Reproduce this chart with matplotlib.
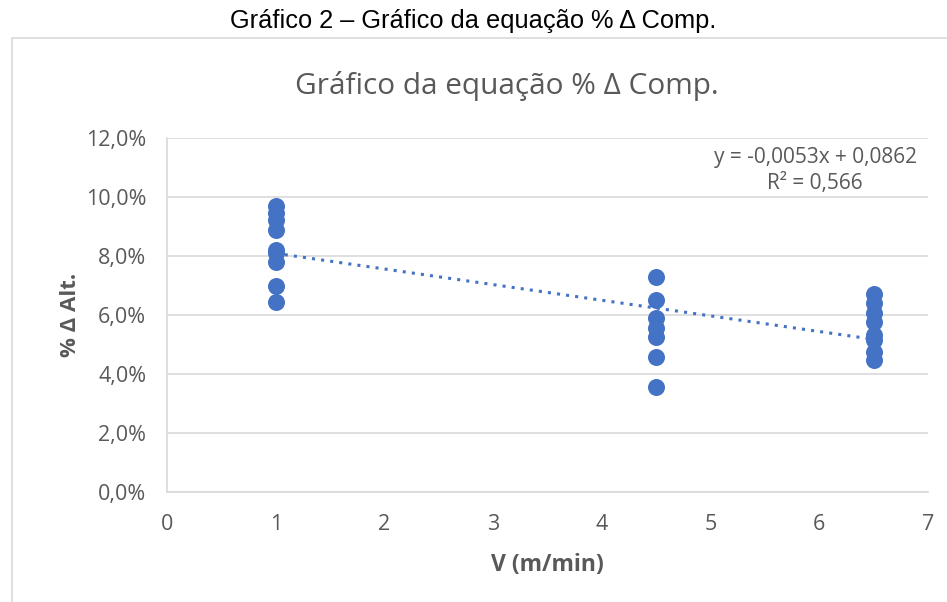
import numpy as np
import matplotlib
matplotlib.use("Agg")
import matplotlib.pyplot as plt
from matplotlib.patches import Rectangle
from matplotlib.ticker import FuncFormatter

# --- dados ---
v_1 = [1.0] * 9
alt_1 = [9.69, 9.46, 9.22, 8.88, 8.20, 8.10, 7.80, 6.98, 6.44]
v_45 = [4.5] * 7
alt_45 = [7.29, 6.51, 5.90, 5.56, 5.25, 4.58, 3.56]
v_65 = [6.5] * 8
alt_65 = [6.71, 6.41, 6.07, 5.76, 5.32, 5.15, 4.75, 4.47]

slope, intercept = -0.0053, 0.0862
trend_x = [1.0, 6.5]

x = np.array(v_1 + v_45 + v_65)
y = np.array(alt_1 + alt_45 + alt_65) / 100

BLUE = "#4472C4"
GRAY = "#595959"
LIGHT = "#d9d9d9"
plt.rcParams["font.family"] = ["Open Sans", "DejaVu Sans"]

fig = plt.figure(figsize=(9.47, 6.02), dpi=100)
ax = fig.add_axes([167 / 947, 1 - 492 / 602, (928 - 167) / 947, (492 - 138) / 602])

# borda externa do gráfico
fig.patches.append(Rectangle((12 / 947, -0.1), 1.2, 1.1 - 38 / 602, transform=fig.transFigure,
                             fill=False, edgecolor=LIGHT, lw=1.2))

ax.scatter(x, y, s=150, color=BLUE, zorder=3, linewidths=0)
tx = np.array(trend_x)
ax.plot(tx, slope * tx + intercept, ls=(0, (1, 2)), color=BLUE, lw=2.2, zorder=2)

ax.set_xlim(0, 7)
ax.set_ylim(0, 0.12)
ax.set_xticks(range(8))
ax.set_yticks(np.arange(0, 0.121, 0.02))
ax.yaxis.set_major_formatter(FuncFormatter(lambda v, p: f"{v * 100:.1f}%".replace(".", ",")))
ax.grid(axis="y", color=LIGHT, lw=1.2)
ax.set_axisbelow(True)
for s in ["top", "right"]:
    ax.spines[s].set_visible(False)
for s in ["bottom", "left"]:
    ax.spines[s].set_color(LIGHT)
    ax.spines[s].set_linewidth(1.2)
ax.tick_params(length=0, labelsize=15.5, colors=GRAY)
ax.tick_params(axis="y", pad=15)
ax.tick_params(axis="x", pad=16)

ax.set_xlabel("V (m/min)", fontsize=16.5, fontweight="bold", color=GRAY, labelpad=13)
ax.set_ylabel("% Δ Alt.", fontsize=16, fontweight="bold", color=GRAY, labelpad=3)

ax.text(0.985, 0.975, "y = -0,0053x + 0,0862\nR² = 0,566", transform=ax.transAxes,
        ha="right", va="top", fontsize=15, color=GRAY, multialignment="center",
        linespacing=1.3)

fig.text(507 / 947, 1 - 86 / 602, "Gráfico da equação % Δ Comp.", ha="center", va="center",
         fontsize=21.4, color=GRAY)
fig.text(473 / 947, 1 - 21 / 602, "Gráfico 2 – Gráfico da equação % Δ Comp.", ha="center",
         va="center", fontsize=18.3, color="black", family=["Liberation Sans", "DejaVu Sans"])

fig.savefig("out.png", dpi=100)
